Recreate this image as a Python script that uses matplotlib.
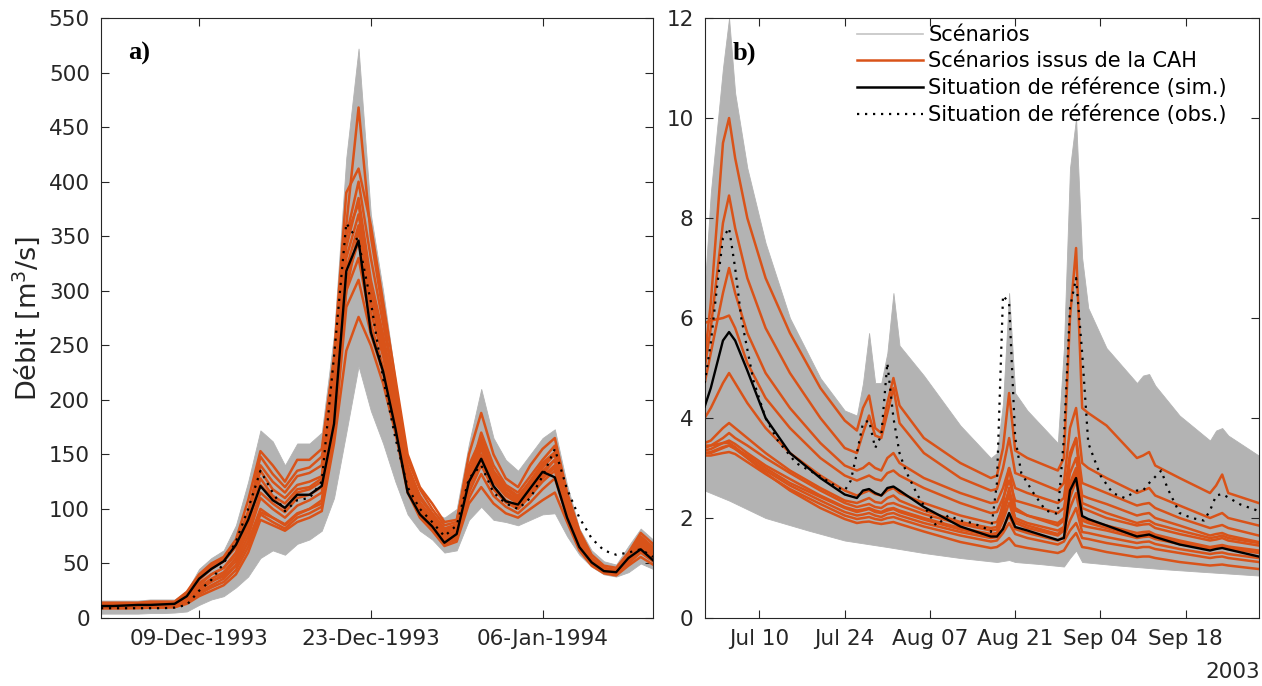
import numpy as np
import matplotlib
matplotlib.use('Agg')
import matplotlib.pyplot as plt
import matplotlib.dates as mdates
from matplotlib.lines import Line2D

# ---------------- Panel a) : daily values, 1993-12-01 .. 1994-01-15 ----------------
a_start = '1993-12-01'
a_ndays = 46
a_env_upper = [16, 16, 16, 16, 17, 17, 17, 25, 45, 55, 62, 85, 125, 172,
               162, 140, 160, 160, 170, 260, 422, 522, 370, 300, 220, 128,
               115, 97, 92, 100, 160, 210, 165, 145, 135, 150, 165, 173,
               122, 82, 62, 52, 49, 66, 82, 72]
a_env_lower = [4, 4, 4, 4, 4.5, 4.5, 5, 6, 12, 17, 20, 28, 38, 55,
               62, 58, 68, 72, 80, 110, 170, 231, 190, 160, 125, 95,
               80, 72, 60, 62, 90, 102, 90, 88, 85, 90, 95, 96,
               75, 58, 47, 40, 38, 42, 50, 45]
a_sim = [11, 11, 11.5, 12, 12, 12.5, 13, 20, 36, 45, 52, 67, 90, 121,
         108, 101, 113, 113, 121, 178, 318, 346, 262, 226, 174, 115,
         95, 84, 69, 77, 125, 146, 121, 107, 104, 119, 134, 129,
         92, 65, 51, 43, 42, 55, 63, 53]
a_obs = [9, 9, 9, 9, 9, 9, 9.5, 12, 25, 35, 50, 70, 100, 135,
         115, 98, 108, 110, 125, 240, 362, 345, 290, 220, 165, 120,
         100, 88, 75, 85, 128, 140, 115, 105, 100, 110, 130, 155,
         118, 92, 73, 62, 58, 60, 63, 56]
a_cah = [
    [13, 13, 13, 13, 14, 14, 14, 20, 32, 40, 46, 58, 85, 128, 112, 105, 118, 120, 128,
     235, 360, 468, 350, 280, 205, 140, 112, 96, 80, 82, 135, 160, 130, 115, 108, 120,
     135, 145, 100, 70, 52, 44, 42, 55, 68, 58],
    [14, 14, 14, 14, 15, 15, 15, 24, 40, 50, 56, 72, 108, 153, 140, 125, 145, 145, 155,
     240, 390, 412, 360, 290, 220, 150, 120, 105, 88, 90, 140, 165, 135, 120, 112, 125,
     140, 150, 105, 72, 54, 45, 43, 57, 75, 65],
    [12, 12, 12, 12.5, 13, 13, 13, 22, 38, 48, 54, 68, 98, 140, 125, 115, 130, 133, 140,
     220, 350, 400, 330, 270, 210, 145, 118, 100, 85, 88, 150, 188, 150, 128, 120, 140,
     155, 165, 115, 80, 58, 48, 46, 60, 78, 68],
    [12, 12, 12, 12, 12.5, 12.5, 13, 20, 35, 45, 52, 65, 95, 135, 118, 110, 122, 125, 130,
     210, 340, 385, 310, 260, 200, 135, 110, 95, 80, 85, 130, 170, 140, 122, 115, 130,
     145, 158, 110, 76, 55, 46, 44, 58, 72, 62],
    [11, 11, 11, 11.5, 12, 12, 12, 18, 30, 40, 46, 60, 88, 122, 110, 100, 115, 118, 125,
     200, 330, 370, 300, 250, 195, 130, 105, 90, 76, 80, 125, 155, 128, 115, 108, 122,
     138, 150, 105, 73, 53, 45, 43, 56, 70, 60],
    [11, 11, 11, 11, 11.5, 11.5, 12, 17, 28, 36, 42, 55, 80, 115, 105, 97, 110, 113, 120,
     195, 320, 360, 290, 245, 190, 128, 102, 88, 74, 78, 122, 150, 125, 112, 105, 118,
     132, 145, 102, 70, 52, 44, 42, 55, 67, 58],
    [10, 10, 10, 10.5, 11, 11, 11, 16, 26, 33, 40, 52, 75, 110, 100, 92, 103, 108, 115,
     185, 310, 345, 280, 240, 185, 125, 100, 86, 72, 76, 120, 145, 120, 108, 102, 115,
     128, 138, 100, 68, 51, 43, 41, 53, 64, 56],
    [10, 10, 10, 10, 10.5, 10.5, 11, 15, 24, 30, 36, 48, 70, 100, 92, 86, 96, 100, 108,
     175, 300, 330, 270, 230, 180, 120, 97, 84, 70, 74, 115, 140, 118, 106, 100, 112,
     125, 135, 97, 67, 50, 43, 41, 52, 62, 54],
    [9, 9, 9, 9.5, 10, 10, 10, 14, 22, 28, 33, 44, 65, 95, 88, 82, 92, 96, 102,
     165, 285, 310, 260, 225, 175, 118, 95, 82, 68, 72, 110, 132, 112, 102, 96, 106,
     118, 128, 93, 65, 49, 42, 40, 50, 60, 52],
    [9, 9, 9, 9, 9.5, 9.5, 10, 13, 20, 25, 30, 40, 60, 90, 85, 80, 88, 92, 98,
     160, 245, 276, 250, 215, 170, 115, 92, 80, 66, 70, 105, 120, 105, 96, 92, 100,
     108, 115, 88, 62, 48, 41, 39, 48, 56, 49],
    [11, 11, 11, 11, 11.5, 12, 12, 17, 27, 34, 38, 48, 70, 97, 92, 85, 95, 100, 105,
     190, 350, 380, 300, 255, 195, 130, 106, 92, 78, 82, 128, 158, 128, 114, 106, 118,
     130, 140, 100, 70, 52, 44, 42, 54, 66, 57],
    [13, 13, 13, 13, 13.5, 14, 14, 22, 36, 46, 52, 66, 95, 148, 132, 120, 135, 138, 148,
     205, 300, 355, 300, 255, 198, 135, 110, 96, 82, 86, 132, 162, 132, 118, 110, 126,
     142, 152, 108, 74, 54, 45, 43, 58, 74, 64],
]

# ---------------- Panel b) : values at day offsets from 2003-07-01 ----------------
b_start = '2003-07-01'
b_up_days = [0, 1, 3, 4, 5, 7, 10, 14, 19, 23, 25, 26, 27, 28, 29, 30, 31, 32, 33, 36,
             42, 47, 48, 49, 50, 51, 53, 58, 59, 60, 61, 62, 63, 66, 71, 72, 73, 74, 78,
             83, 84, 85, 86, 91]
b_env_upper = [6.6, 8.5, 11.0, 12.0, 10.5, 9.0, 7.5, 6.0, 4.8, 4.15, 4.05, 4.7, 5.7, 4.7,
               4.7, 5.3, 6.5, 5.45, 5.3, 4.85, 3.85, 3.2, 3.3, 4.3, 6.5, 4.5, 4.15, 3.5,
               5.4, 9.0, 10.0, 7.2, 6.2, 5.4, 4.7, 4.85, 4.88, 4.65, 4.05, 3.55, 3.75,
               3.8, 3.65, 3.25]
b_low_days = [0, 4, 10, 17, 23, 30, 36, 42, 48, 50, 51, 55, 59, 60, 61, 62, 68, 75, 81, 91]
b_env_lower = [2.55, 2.35, 2.0, 1.75, 1.55, 1.42, 1.3, 1.2, 1.12, 1.16, 1.12, 1.08, 1.03,
               1.2, 1.35, 1.12, 1.05, 0.98, 0.93, 0.85]

b_days = [0, 1, 3, 4, 5, 7, 10, 14, 19, 23, 25, 26, 27, 28, 29, 30, 31, 32, 36, 42, 47,
          48, 49, 50, 51, 53, 58, 59, 60, 61, 62, 63, 66, 71, 72, 73, 74, 78, 83, 84, 85,
          86, 91]
b_sim = [4.23, 4.6, 5.55, 5.72, 5.55, 4.95, 4.0, 3.3, 2.8, 2.47, 2.4, 2.55, 2.58, 2.5,
         2.45, 2.6, 2.63, 2.55, 2.22, 1.83, 1.63, 1.63, 1.78, 2.1, 1.82, 1.75, 1.56, 1.6,
         2.55, 2.8, 2.04, 1.98, 1.85, 1.63, 1.65, 1.67, 1.62, 1.47, 1.35, 1.38, 1.4, 1.37,
         1.23]
b_cah = [
    [5.2, 6.3, 9.5, 10.0, 9.2, 8.0, 6.8, 5.7, 4.6, 3.95, 3.75, 4.2, 4.45, 3.8, 3.7, 4.3,
     4.8, 4.25, 3.6, 3.1, 2.8, 2.85, 3.4, 4.5, 3.35, 3.2, 2.95, 3.2, 6.0, 7.4, 4.2, 4.1,
     3.85, 3.2, 3.25, 3.32, 3.05, 2.8, 2.5, 2.65, 2.87, 2.5, 2.3],
    [5.0, 5.8, 7.9, 8.45, 7.8, 6.8, 5.8, 4.9, 4.0, 3.4, 3.3, 3.7, 4.05, 3.65, 3.6, 4.1,
     4.6, 3.9, 3.3, 2.8, 2.55, 2.58, 3.0, 3.6, 2.9, 2.8, 2.55, 2.7, 3.8, 4.2, 3.1, 3.0,
     2.8, 2.5, 2.55, 2.6, 2.45, 2.25, 2.0, 2.05, 2.1, 2.0, 1.85],
    [4.7, 5.3, 6.5, 7.0, 6.5, 5.7, 4.9, 4.2, 3.5, 3.05, 2.95, 3.0, 3.1, 3.0, 2.95, 3.2,
     3.3, 3.1, 2.8, 2.5, 2.3, 2.32, 2.6, 3.0, 2.6, 2.5, 2.3, 2.4, 3.3, 3.6, 2.7, 2.65,
     2.5, 2.25, 2.28, 2.3, 2.2, 2.0, 1.8, 1.83, 1.86, 1.8, 1.65],
    [5.9, 5.95, 6.0, 6.05, 5.8, 5.1, 4.4, 3.8, 3.2, 2.85, 2.75, 2.8, 2.85, 2.78, 2.75,
     2.9, 2.95, 2.85, 2.6, 2.3, 2.1, 2.12, 2.4, 2.75, 2.35, 2.28, 2.1, 2.2, 2.9, 3.2,
     2.45, 2.4, 2.28, 2.05, 2.08, 2.1, 2.0, 1.85, 1.65, 1.68, 1.7, 1.65, 1.52],
    [4.0, 4.2, 4.7, 4.9, 4.7, 4.3, 3.8, 3.3, 2.85, 2.55, 2.45, 2.5, 2.55, 2.48, 2.45,
     2.55, 2.6, 2.5, 2.3, 2.05, 1.9, 1.92, 2.2, 2.55, 2.15, 2.05, 1.9, 2.0, 2.6, 2.9,
     2.2, 2.15, 2.0, 1.85, 1.87, 1.88, 1.8, 1.68, 1.55, 1.57, 1.6, 1.55, 1.45],
    [3.4, 3.45, 3.6, 3.7, 3.6, 3.45, 3.2, 2.9, 2.55, 2.3, 2.22, 2.25, 2.28, 2.22, 2.2,
     2.28, 2.3, 2.25, 2.08, 1.88, 1.75, 1.77, 2.1, 2.45, 2.0, 1.9, 1.75, 1.82, 2.4, 2.75,
     2.0, 1.95, 1.85, 1.7, 1.72, 1.73, 1.67, 1.55, 1.42, 1.44, 1.46, 1.43, 1.35],
    [3.35, 3.38, 3.5, 3.55, 3.48, 3.3, 3.05, 2.78, 2.45, 2.22, 2.15, 2.17, 2.2, 2.15,
     2.12, 2.18, 2.2, 2.15, 2.0, 1.8, 1.68, 1.7, 1.95, 2.3, 1.9, 1.8, 1.65, 1.75, 2.2,
     2.5, 1.85, 1.82, 1.75, 1.6, 1.62, 1.63, 1.58, 1.48, 1.38, 1.4, 1.42, 1.39, 1.3],
    [3.3, 3.3, 3.4, 3.45, 3.38, 3.2, 2.95, 2.65, 2.35, 2.12, 2.05, 2.07, 2.1, 2.05, 2.02,
     2.08, 2.1, 2.05, 1.9, 1.72, 1.6, 1.62, 1.8, 2.05, 1.78, 1.7, 1.55, 1.62, 1.95, 2.2,
     1.72, 1.7, 1.62, 1.5, 1.52, 1.53, 1.48, 1.38, 1.28, 1.3, 1.31, 1.28, 1.2],
    [3.25, 3.25, 3.3, 3.32, 3.28, 3.12, 2.88, 2.58, 2.28, 2.05, 1.98, 2.0, 2.02, 1.98,
     1.96, 2.0, 2.02, 1.98, 1.83, 1.65, 1.53, 1.55, 1.7, 1.9, 1.68, 1.6, 1.47, 1.53,
     1.75, 1.9, 1.6, 1.58, 1.5, 1.4, 1.42, 1.42, 1.38, 1.3, 1.2, 1.22, 1.23, 1.2, 1.12],
    [3.45, 3.45, 3.5, 3.5, 3.42, 3.2, 2.9, 2.55, 2.2, 1.98, 1.9, 1.92, 1.93, 1.9, 1.88,
     1.9, 1.92, 1.88, 1.73, 1.52, 1.4, 1.42, 1.5, 1.6, 1.45, 1.4, 1.3, 1.35, 1.55, 1.7,
     1.42, 1.4, 1.32, 1.22, 1.23, 1.23, 1.2, 1.12, 1.05, 1.06, 1.07, 1.05, 0.98],
    [3.5, 3.55, 3.8, 3.9, 3.8, 3.6, 3.3, 2.95, 2.6, 2.35, 2.3, 2.35, 2.4, 2.32, 2.3, 2.4,
     2.45, 2.35, 2.15, 1.92, 1.8, 1.82, 2.3, 3.0, 2.2, 2.05, 1.85, 1.95, 3.2, 3.6, 2.3,
     2.25, 2.1, 1.9, 1.93, 1.95, 1.88, 1.75, 1.6, 1.62, 1.65, 1.6, 1.5],
    [3.3, 3.32, 3.42, 3.45, 3.4, 3.25, 3.0, 2.7, 2.42, 2.2, 2.12, 2.15, 2.18, 2.12, 2.1,
     2.15, 2.18, 2.12, 1.97, 1.77, 1.65, 1.67, 2.0, 2.6, 1.95, 1.85, 1.68, 1.8, 2.7, 3.0,
     1.95, 1.9, 1.8, 1.65, 1.67, 1.68, 1.63, 1.52, 1.4, 1.42, 1.43, 1.4, 1.33],
]
b_obs_days = [0, 1, 2, 3, 4, 5, 6, 8, 10, 12, 15, 19, 22, 23, 24, 25, 26, 27, 28, 29, 30,
              31, 32, 33, 35, 37, 38, 39, 40, 42, 44, 46, 47, 48, 49, 50, 51, 52, 54, 56,
              58, 59, 60, 61, 62, 63, 65, 67, 69, 71, 72, 73, 75, 76, 77, 78, 80, 82, 83,
              84, 85, 88, 91]
b_obs = [4.7, 5.5, 6.6, 7.6, 7.8, 7.0, 6.0, 4.75, 4.0, 3.55, 3.1, 2.83, 2.6, 2.55, 2.75,
         3.3, 3.9, 3.95, 3.4, 3.65, 5.1, 4.0, 3.3, 2.95, 2.45, 2.05, 1.85, 1.95, 2.05, 1.95,
         1.9, 1.8, 1.72, 2.7, 6.45, 6.3, 3.6, 2.9, 2.5, 2.15, 2.08, 3.6, 6.2, 6.8, 5.3, 3.5,
         2.85, 2.5, 2.4, 2.55, 2.55, 2.7, 2.95, 2.6, 2.35, 2.1, 2.0, 1.95, 2.15, 2.45, 2.48,
         2.27, 2.14]

# ---------------- styling ----------------
GRAY = '#b3b3b3'
GRAY_LEG = '#c4c4c4'
ORANGE = '#d95319'
AXC = '#262626'

plt.rcParams['font.family'] = ['DejaVu Sans']
fig = plt.figure(figsize=(12.62, 6.86), dpi=100)
ax1 = fig.add_axes([0.0800, 0.0991, 0.4374, 0.8746])
ax2 = fig.add_axes([0.5584, 0.0991, 0.4390, 0.8746])

# panel a
t_a = np.datetime64(a_start) + np.arange(a_ndays).astype('timedelta64[D]')
ax1.fill_between(t_a, a_env_lower, a_env_upper, color=GRAY, lw=0.6, zorder=1)
for s in a_cah:
    ax1.plot(t_a, s, color=ORANGE, lw=1.8, zorder=2)
ax1.plot(t_a, a_sim, color='black', lw=1.7, zorder=3)
ax1.plot(t_a, a_obs, color='black', lw=1.6, ls=(0, (1, 2.6)), zorder=4)
ax1.set_xlim(np.datetime64('1993-12-01'), np.datetime64('1994-01-15'))
ax1.set_ylim(0, 550)
ax1.set_yticks(np.arange(0, 551, 50))
ax1.set_xticks([np.datetime64('1993-12-09'), np.datetime64('1993-12-23'),
                np.datetime64('1994-01-06')])
ax1.xaxis.set_major_formatter(mdates.DateFormatter('%d-%b-%Y'))
ax1.set_ylabel('Débit [m$^3$/s]', fontsize=19.5, color=AXC, labelpad=5)
ax1.text(0.05, 0.96, 'a)', transform=ax1.transAxes, fontsize=19, fontweight='bold',
         family='Liberation Serif', va='top', ha='left')

# panel b
base_b = np.datetime64(b_start)
def td(days):
    return base_b + (np.array(days) * 24).astype('timedelta64[h]')
grid_h = np.arange(0, 91 * 24 + 1, 6)
grid = base_b + grid_h.astype('timedelta64[h]')
up_i = np.interp(grid_h / 24.0, b_up_days, b_env_upper)
lo_i = np.interp(grid_h / 24.0, b_low_days, b_env_lower)
ax2.fill_between(grid, lo_i, up_i, color=GRAY, lw=0.6, zorder=1)
for s in b_cah:
    ax2.plot(td(b_days), s, color=ORANGE, lw=1.8, zorder=2)
ax2.plot(td(b_days), b_sim, color='black', lw=1.7, zorder=3)
ax2.plot(td(b_obs_days), b_obs, color='black', lw=1.6, ls=(0, (1, 2.6)), zorder=4)
ax2.set_xlim(np.datetime64('2003-07-01'), np.datetime64('2003-09-30'))
ax2.set_ylim(0, 12)
ax2.set_yticks(np.arange(0, 13, 2))
ax2.set_xticks([np.datetime64('2003-07-10'), np.datetime64('2003-07-24'),
                np.datetime64('2003-08-07'), np.datetime64('2003-08-21'),
                np.datetime64('2003-09-04'), np.datetime64('2003-09-18')])
ax2.xaxis.set_major_formatter(mdates.DateFormatter('%b %d'))
ax2.text(0.05, 0.96, 'b)', transform=ax2.transAxes, fontsize=19, fontweight='bold',
         family='Liberation Serif', va='top', ha='left')
ax2.text(1.003, -0.073, '2003', transform=ax2.transAxes, fontsize=15.5, color=AXC,
         ha='right', va='top')

handles = [Line2D([], [], color=GRAY_LEG, lw=1.2),
           Line2D([], [], color=ORANGE, lw=1.8),
           Line2D([], [], color='black', lw=1.8),
           Line2D([], [], color='black', lw=1.6, ls=(0, (1, 2.6)))]
labels = ['Scénarios', 'Scénarios issus de la CAH',
          'Situation de référence (sim.)', 'Situation de référence (obs.)']
ax2.legend(handles, labels, loc='upper left', bbox_to_anchor=(0.274, 0.988),
           frameon=False, fontsize=15, handlelength=3.2, handletextpad=0.25,
           labelspacing=0.3, borderaxespad=0.0, borderpad=0.0)

for ax in (ax1, ax2):
    ax.tick_params(direction='in', top=True, right=True, length=6, width=0.8,
                   labelsize=15.5, colors=AXC, pad=8)
    for sp in ax.spines.values():
        sp.set_color(AXC)
        sp.set_linewidth(0.8)

fig.savefig('out.png', dpi=100)
